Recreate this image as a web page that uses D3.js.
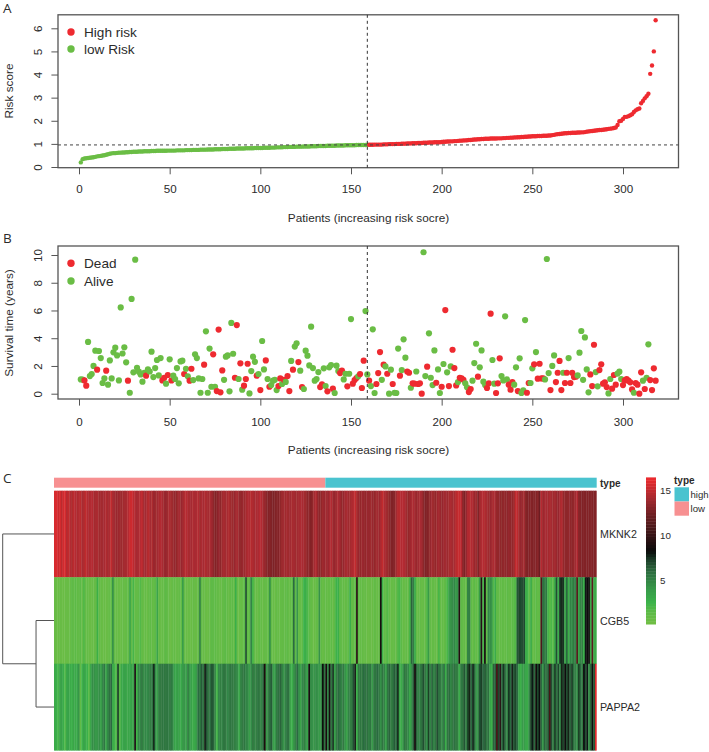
<!DOCTYPE html>
<html><head><meta charset="utf-8">
<script src="https://cdn.jsdelivr.net/npm/d3@7/dist/d3.min.js"></script>
<style>html,body{margin:0;padding:0;background:#fff}svg{display:block}text{font-family:"Liberation Sans",Arial,sans-serif;fill:#2b2b2b}</style>
</head><body><div id="chart"></div>
<script>
const riskScore=[
.2,.34,.37,.38,.39,.4,.41,.42,.44,.46,
.47,.48,.5,.51,.53,.55,.57,.59,.6,.6,
.61,.62,.62,.63,.63,.64,.64,.65,.65,.66,
.66,.66,.67,.67,.67,.68,.68,.68,.68,.69,
.69,.69,.7,.7,.7,.7,.7,.7,.71,.71,
.71,.71,.71,.72,.72,.72,.72,.72,.73,.73,
.73,.73,.74,.74,.74,.74,.75,.75,.75,.75,
.76,.76,.76,.76,.77,.77,.77,.77,.78,.78,
.78,.78,.79,.79,.79,.79,.8,.8,.8,.8,
.8,.81,.81,.81,.81,.81,.82,.82,.82,.82,
.82,.83,.83,.83,.83,.84,.84,.84,.85,.85,
.85,.85,.86,.86,.86,.87,.87,.87,.87,.88,
.88,.88,.88,.89,.89,.89,.89,.9,.9,.9,
.9,.91,.91,.91,.91,.91,.92,.92,.92,.92,
.92,.93,.93,.93,.93,.93,.94,.94,.94,.94,
.94,.94,.95,.95,.95,.95,.95,.95,.96,
.96,.96,.96,.97,.97,.97,.97,.97,.98,.98,.98,
.99,.99,.99,.99,1,1,1,1.01,1.01,1.01,
1.02,1.02,1.02,1.03,1.03,1.03,1.04,1.04,1.04,1.05,
1.05,1.05,1.06,1.06,1.06,1.07,1.07,1.07,1.07,1.08,
1.09,1.09,1.1,1.1,1.11,1.11,1.12,1.12,1.13,1.14,
1.14,1.15,1.15,1.16,1.17,1.17,1.18,1.19,1.19,1.2,
1.2,1.21,1.21,1.22,1.22,1.22,1.23,1.23,1.23,1.23,
1.24,1.24,1.24,1.25,1.25,1.26,1.26,1.27,1.27,1.28,
1.28,1.29,1.29,1.3,1.3,1.31,1.31,1.32,1.32,1.33,
1.33,1.33,1.34,1.34,1.34,1.35,1.35,1.35,1.36,1.36,
1.38,1.39,1.41,1.42,1.43,1.44,1.45,1.46,1.46,1.47,
1.47,1.48,1.48,1.48,1.49,1.49,1.5,1.5,1.51,1.53,
1.54,1.55,1.56,1.57,1.58,1.59,1.6,1.6,1.61,1.62,
1.63,1.65,1.66,1.67,1.69,1.71,
1.82,1.98,2.0,2.08,2.17,2.17,2.2,2.24,2.28,2.38,2.45,2.5,2.53,2.76,2.86,2.97,3.06,3.17,4.03,4.39,5.0,6.35];
const riskCut=0.955;
const cutIndex=159;

const survival=[
1.03,1.02,.96,.58,3.73,1.27,1.42,2.0,3.1,1.73,
3.08,2.57,.77,1.1,1.66,.65,2.4,1.1,2.98,3.32,
2.76,.96,6.22,2.9,3.34,2.26,.94,.07,6.83,1.54,
9.66,1.87,1.59,1.39,.87,1.5,1.3,1.75,1.6,3.03,
1.2,1.85,2.43,1.32,2.57,.96,1.15,.72,1.35,2.48,
.96,1.3,1.06,1.85,.75,2.33,2.38,1.42,1.8,1.25,
.94,1.8,.98,2.84,2.57,1.1,.07,1.06,2.09,4.5,
.07,3.25,.5,2.84,.5,.19,4.62,.1,1.68,1.0,
2.67,2.76,.17,5.1,2.88,1.15,4.95,1.06,2.19,.29,
.58,1.06,2.16,.02,1.63,2.67,2.3,1.3,1.42,.26,
3.8,1.75,2.4,1.06,.5,.62,.94,1.0,.26,.55,
1.1,.7,1.0,.85,1.27,.19,2.36,1.73,3.4,3.63,
2.28,1.66,.48,.34,3.1,2.74,2.04,4.83,1.85,.94,
1.06,1.56,.48,.67,1.83,.55,.17,1.9,2.07,.36,
.05,2.02,1.63,1.49,1.66,1.03,1.44,.53,1.44,5.38,
.72,.98,1.13,1.25,1.42,.41,2.38,5.96,1.39,.94,
.55,4.64,.05,.7,1.49,3.0,1.0,2.09,1.97,1.44,
0,1.73,.7,.07,.05,3.25,1.3,1.7,3.92,2.6,
1.6,1.51,.43,.75,.72,1.6,.7,.75,0,10.2,
1.27,1.95,4.35,1.15,.62,3.12,.79,1.75,.05,.5,
2.14,6.03,1.54,.55,1.97,3.17,1.85,.6,.84,1.15,
1.1,1.0,.75,.46,.12,.34,.94,2.21,3.6,1.23,
1.9,3.12,.87,.62,.41,.75,5.77,2.43,.72,.05,
.75,2.55,1.27,.96,5.58,1.03,.65,.29,.84,.65,
1.9,.19,2.55,.05,.24,5.31,.07,.77,.77,1.83,
2.12,3.0,1.08,2.16,1.1,1.1,1.03,9.71,1.49,.26,
2.0,2.76,.84,1.51,2.36,.26,1.51,.77,1.51,2.57,
.77,1.51,1.2,1.23,1.32,2.96,4.52,1.0,4.06,1.75,
.1,1.39,.55,3.53,1.56,.53,1.7,2.12,.72,.82,
.48,.02,1.06,.36,1.35,.65,1.45,1.59,1.06,.62,
.96,1.06,.94,.82,.31,.07,.77,.65,0,1.54,
.94,.34,1.15,3.56,.98,.26,1.83,.94];
const isDead=[
0,0,1,1,0,0,0,0,0,1,
0,0,0,0,1,0,0,0,0,0,
0,0,0,0,0,0,1,0,0,0,
0,0,0,0,0,0,1,0,0,0,
0,0,0,0,0,1,1,0,1,0,
1,0,0,0,0,0,0,1,0,0,
1,1,0,0,0,0,0,0,1,0,
0,0,0,1,0,1,1,1,1,0,
0,0,0,0,0,1,1,0,1,0,
1,1,1,0,0,0,0,1,0,1,
0,0,1,0,1,0,0,0,0,1,
1,0,1,0,1,1,0,1,0,0,
1,0,1,0,0,0,0,0,0,0,
0,0,1,1,0,0,1,0,0,1,
0,0,0,1,1,0,0,1,0,0,
1,1,1,0,1,1,1,0,0,1,
0,0,0,1,1,1,0,1,0,1,
0,0,1,0,0,0,1,0,0,0,
1,1,0,1,1,0,1,1,1,0,
0,1,0,0,0,0,1,0,0,1,
0,1,0,1,0,1,1,1,0,1,
1,1,0,0,1,1,0,0,0,1,
0,0,0,0,1,1,1,0,0,1,
1,1,0,0,0,0,1,1,1,0,
0,1,0,0,0,0,1,1,0,0,
1,0,1,1,1,1,0,0,0,1,
0,0,1,1,1,1,0,1,1,0,
1,1,1,1,0,0,0,0,0,0,
0,1,1,1,0,0,1,1,1,1,
1,0,0,1,1,1,0,0,0,1,
1,1,1,1,1,0,1,1,1,1,
0,1,0,0,1,1,1,1];

const geneNames=["MKNK2","CGB5","PAPPA2"];
const MKNK2=[
15.6,15.8,15.2,15.7,14.8,15.5,15.6,14.6,15,14.5,
14.3,14.8,14.6,14.3,14.5,14.8,14.2,14.4,14.9,14.5,
14.3,14.5,14.6,14.1,14.2,14.3,13.9,14.1,14.0,14.2,
14.4,14.1,14.3,14.9,14.2,14.0,13.7,13.8,13.9,13.8,
14.0,14.1,14.2,14.6,15.2,15.4,14.8,14.5,14.1,14.3,
14.6,14.9,14.2,14.0,14.4,14.7,14.1,14.3,13.7,13.9,
14,14.2,14.5,14.2,13.8,13.6,13.9,14.3,14.1,13.8,
13.6,13.5,13.9,14.1,13.7,14.0,14.5,14.6,14.3,14.2,
14.1,14.4,14.2,14.3,14.5,14,14.3,14.1,14.4,14.2,
14.1,14.2,13.9,13.3,13.0,13.2,13.6,13.3,13.9,14.2,
14,14.2,14.4,13.9,13.8,13.6,14,14.2,13.6,13.5,
13.7,13.8,14.1,14.4,14.3,14.6,14.4,14.1,14.3,14.2,
14.6,14.5,14.0,13.7,13.2,13.0,13.1,12.9,12.8,12.9,
13.1,13.0,13.4,13.8,14,13.9,14.1,13.9,14.0,14.2,
14.1,13.9,14,14.1,14.3,14.2,14.0,13.9,13.3,13.4,
13.0,13.4,14.1,14.4,13.6,13.3,13.5,13.9,13.7,
14,13.7,14.2,14.5,13.8,13.6,14,14.3,14,13.5,
13.6,14,14.2,13.9,14.1,14.3,14.6,15,14.2,13.7,
13.5,13.8,13.6,13.5,13.7,13.6,13.9,13.7,13.5,13.8,
14,13.8,14.3,15,14.4,14.1,13.8,13.4,13,12.9,
13.1,14,14.6,14.7,14.5,14.6,14.4,13.9,13.6,13.8,
14.2,14.3,14,13.7,14,14.2,14,13.2,12.9,13,
13.2,13.6,14,13.8,13.5,13.9,14.1,13.7,13.6,13.9,
14,13.8,14.1,14.3,14,14.2,14.6,15,15.1,14.8,
13.4,12.8,13.6,14.4,14.6,14.5,14.3,13.7,13.9,12.9,
14,14.4,14.6,14.4,14.2,13.9,13.7,14,14.3,14.1,
13.6,13.5,13.4,13.3,13.5,13.4,13.3,13.6,13.4,13.5,
13.8,15,14.8,14.1,13.6,13.8,14,13.1,12.9,13,
13.1,12.9,13.1,13,13.2,12.2,14.6,13.8,14.1,14.2,
14,14.3,14.1,13.9,14.1,13.7,13.6,14.2,14.5,13.5,
13.4,13.3,13.5,13.4,13.3,13.5,14,14.4,13.2,13,
12.9,13,12.9,13,12.9,13.1,13,12.9,13];
const CGB5=[
.8,.7,.6,.8,.7,.6,.7,.8,.7,.9,
1.4,1.1,1.5,1.2,1,1.5,.9,1.8,1,.9,
.8,.7,.8,.8,1,2.8,1,.8,.7,.8,
.7,.8,.9,1.3,4.4,1,.8,.8,.7,.8,
.9,.8,1,1.1,3.4,1,2.2,.9,1,1.2,
1.8,1.1,.8,.9,.7,1,1.2,1,.9,1.5,
3.4,1,.8,.9,1,1.5,1,.8,.7,.9,
1,.8,.9,1,1.2,3.8,.9,.8,.7,.8,
.7,.9,.8,.7,1,5,1,.8,.8,.7,
.8,1,1.4,1.2,1.3,1,.9,.8,1,1.1,
1.5,1,.8,1.2,1.4,1,2.8,.8,.7,.9,
.8,1.5,6.8,1.1,1.4,5,2.2,1,.8,.8,
1.2,.9,.8,1,.9,1.2,4.4,.9,.8,.7,
1,.8,.9,1,1.1,1,1.4,.9,1,1.3,
6,1.3,4.2,1,.9,1.5,2.6,2.8,2,1.5,
1,.8,.7,1,1,4.4,1.1,.8,1,
1,.9,1,1.3,1,1.5,2.6,2.8,1.5,1,
1,.9,1,1.3,3,1,1,1.4,9.5,1.2,
.9,1,.8,.9,.7,.6,.8,.7,1.1,1,
.8,1,8.8,2.6,1,1.4,1.8,1,.8,.9,
1,1,1.8,2.2,1.5,.9,.8,1,1,2.2,
6.2,5.2,3,1,.9,1,.8,.9,1,1.8,
4,1,.9,1,.8,1,2.2,.9,1,1,
1.5,2.2,3.8,4.2,4.6,4.8,4,4.4,9.2,1.4,
1.1,1,1,5,5.2,1.4,1,1.5,.9,1.6,
4,9.4,2.2,8.8,1.3,4.8,4.6,4.2,1.8,3,
1.3,1,1,1.2,1.1,1,1.4,1,1.1,1.5,
1.6,1.8,6.6,7,6.9,6.8,6.9,3,2.4,1.4,
3,1.1,1,1.5,1,1.3,11,6,5.2,5.5,
2.2,1.6,2,1.6,3.2,6.8,2.8,7.4,7.6,7.4,
3.2,6,2.8,5,4.6,5.4,4.8,11.2,3.4,5,
5.2,2.8,8,8.3,8.1,3.2,11.4,2.8,3];
const PAPPA2=[
3,2.8,2.2,3.4,3.6,2.8,1.8,3.2,3.6,3,
2.6,3.4,3,3.2,4.2,1.2,2.6,3.4,3,2.6,
1.6,3.2,4.6,4.4,4,4.2,4.5,3.6,4.8,5.5,
3.4,4.8,5.8,6,3,2.4,1.8,7.2,1.6,3.2,
3.4,3.6,3.2,3.4,3.2,3.6,3.4,9,2.4,4.8,
5,5.4,4.6,4.8,4.6,5,5.2,5.6,7.6,4.4,
3.8,5.2,5.4,5.6,5.5,5.4,5.6,5.3,5.5,5,
3.6,3.4,3.8,3.4,3.2,4,4.2,3.6,5.2,4,
3.6,3,3.2,4,6,5.4,6.4,5.6,7.8,6.6,
5.4,6,6.6,6.2,4.6,2.2,4.8,5.2,5,5.6,
5.4,4.8,5.2,5.6,5.4,5.2,5,4.6,3.2,5,
5.4,5.6,5,4.8,3.8,4.6,5.4,5,5.2,5.6,
5.4,5,6.2,9,4,5.2,6,6.4,3.6,4,
5.4,5.8,6.2,5.4,4.2,5,5.6,5.8,3.4,2.8,
4.2,5,6,4.6,3.4,4.8,5.2,4.4,3.6,8.6,
4.6,4.4,4.2,4.6,4.4,4,4.6,8.4,5.6,
8.6,5,8.8,5.6,7.4,3.6,5.4,6,5.6,5,
5.4,4.4,3.4,5,5.2,5.4,6.8,7.8,2.6,5.4,
5.6,5.4,6,5.6,5.8,5.2,5.6,4,5.4,5.6,
6,5.4,4.4,5.6,5,3.6,5.6,6.2,5.2,5.6,
6.4,6,7.6,3.4,3,4.2,5.6,5.2,4.8,3.2,
4.4,6.4,8.6,6.2,5,5.4,5.8,6.8,5.4,4.6,
7.2,5,6.2,5,5.6,6.8,5.8,5.4,4.6,5.8,
2.8,5.6,6,4.8,5.4,5.8,5.4,5.2,3,5.4,
5.6,6.6,5.2,7,7.8,6,7.6,6.2,3.8,5,
6.8,7.2,6,6.4,5.4,5.8,3.6,2.6,6.2,6.4,
10.8,7,9.6,6,7.4,5.5,5,7.4,6,7.8,
6.6,7,6,3.4,2.6,4,3.8,3.2,3,5,
7.2,8,6,8.4,7,8.2,6,4.2,6.2,5.4,
6.6,10.6,6.8,5.2,7.2,5.6,7,4.8,7.8,7,
8.2,6.8,7.8,6.2,7.2,5.8,5,4.6,7.2,6,
5.4,8.2,6.8,8,4.4,6.2,8.4,6.6,16];
const xTicks=[0,50,100,150,200,250,300];
const riskTicks=[0,1,2,3,4,5,6];
const survTicks=[0,2,4,6,8,10];
const barTicks=[5,10,15];
const mergeHeights=[0.35,1];
const RED="#ee2a30",GREEN="#6abd45",INK="#2b2b2b",FRAME="#555";

const W=709,H=752;
const svg=d3.select("#chart").append("svg").attr("width",W).attr("height",H).attr("viewBox",`0 0 ${W} ${H}`);
const defs=svg.append("defs");
defs.append("filter").attr("id","soft").attr("x","-1%").attr("y","-1%").attr("width","102%").attr("height","102%")
  .append("feGaussianBlur").attr("stdDeviation","0.7 0");
const X=d3.scaleLinear().domain([0,300]).range([79,623]);
const FL=58,FR=678.5;

function axes(top,bottom,y,yTicks,yTitle,yTitleY,lblY){
  const g=svg.append("g");
  g.append("g").attr("transform",`translate(0,${bottom})`).call(d3.axisBottom(X).tickValues(xTicks).tickSize(6.6).tickFormat(d=>d))
    .call(a=>{a.select(".domain").remove();a.selectAll("line").attr("stroke",FRAME).attr("stroke-width",1);
      a.selectAll("text").attr("dy",null).attr("text-anchor","middle")
        .attr("y",lblY-bottom).attr("dominant-baseline","central").style("font-size","11.6px").style("fill",INK);});
  g.append("g").attr("transform",`translate(${FL},0)`).call(d3.axisLeft(y).tickValues(yTicks).tickSize(6.6).tickFormat(d=>d))
    .call(a=>{a.select(".domain").remove();a.selectAll("line").attr("stroke",FRAME).attr("stroke-width",1);
      a.selectAll("text").attr("x",null).attr("dy",null).attr("text-anchor","middle").attr("dominant-baseline","central")
        .attr("transform","translate(-21,0) rotate(-90)")
        .style("font-size","11.6px").style("fill",INK);});
  g.append("rect").attr("x",FL).attr("y",top).attr("width",FR-FL).attr("height",bottom-top).attr("fill","none").attr("stroke",FRAME).attr("stroke-width",1.3);
  g.append("text").attr("transform",`translate(9,${yTitleY}) rotate(-90)`).attr("text-anchor","middle").attr("dominant-baseline","central").style("font-size","11.8px").text(yTitle);
  g.append("text").attr("x",368.5).attr("y",lblY+29).attr("text-anchor","middle").attr("dominant-baseline","central").style("font-size","11.8px").text("Patients (increasing risk socre)");
}
function legend(ys,labels,colors){
  ys.forEach((yy,i)=>{
    svg.append("circle").attr("cx",71).attr("cy",yy).attr("r",3.7).attr("fill",colors[i]);
    svg.append("text").attr("x",84).attr("y",yy).attr("dominant-baseline","central").style("font-size","13.6px").text(labels[i]);
  });
}
function letter(t,y){svg.append("text").attr("x",3).attr("y",y).attr("dominant-baseline","central").style("font-family","'Open Sans'").style("font-size","13.5px").text(t);}

/* Panel A */
const yA=d3.scaleLinear().domain([0,6]).range([167,28.3]);
axes(14.8,167.7,yA,riskTicks,"Risk score",91,189);
svg.append("g").selectAll("circle").data(riskScore).join("circle")
  .attr("cx",(d,i)=>X(i+1)).attr("cy",d=>yA(d)).attr("r",2.2).attr("fill",(d,i)=>i<cutIndex?GREEN:RED);
svg.append("line").attr("x1",FL).attr("x2",FR).attr("y1",yA(riskCut)).attr("y2",yA(riskCut)).attr("stroke","#444").attr("stroke-dasharray","3 3");
svg.append("line").attr("x1",X(cutIndex)).attr("x2",X(cutIndex)).attr("y1",14.8).attr("y2",167.7).attr("stroke","#333").attr("stroke-dasharray","3 3");
legend([32,49],["High risk","low Risk"],[RED,GREEN]);
letter("A",8);

/* Panel B */
const yB=d3.scaleLinear().domain([0,10]).range([393.7,255]);
axes(246,399,yB,survTicks,"Survival time (years)",323,421);
svg.append("g").selectAll("circle").data(survival).join("circle")
  .attr("cx",(d,i)=>X(i+1)).attr("cy",d=>yB(d)).attr("r",3.1).attr("fill",(d,i)=>isDead[i]?RED:GREEN);
svg.append("line").attr("x1",X(cutIndex)).attr("x2",X(cutIndex)).attr("y1",246).attr("y2",399).attr("stroke","#333").attr("stroke-dasharray","3 3");
legend([263.3,281],["Dead","Alive"],[RED,GREEN]);
letter("B",238);

/* Panel C */
const HL=54,HR=596.7;
const color=d3.scaleLinear().domain([0.1,1.5,2.5,4,6,7.2,8.25,12.3,14,16.4])
  .range(["#72be44","#5cba47","#3cb34a","#389a4a","#2c6b3f","#1b3f28","#0b0b0b","#6e2023","#a22a30","#ee2a2e"]).interpolate(d3.interpolateRgb);
const colX=d3.scaleLinear().domain([0,riskScore.length]).range([HL,HR]);
const rowY=d3.scaleBand().domain(geneNames).range([490.7,750.3]);
const heatG=svg.append("g").attr("filter","url(#soft)");
[MKNK2,CGB5,PAPPA2].forEach((vals,r)=>{
  heatG.append("g").selectAll("rect").data(vals).join("rect")
    .attr("x",(d,i)=>colX(i)).attr("y",rowY(geneNames[r])).attr("width",(d,i)=>colX(1)-colX(0)+(i<vals.length-1?.35:0)).attr("height",rowY.bandwidth()+.3)
    .attr("fill",d=>color(d));
});
const annY=477.7,annH=10;
svg.append("rect").attr("x",colX(0)).attr("y",annY).attr("width",colX(cutIndex)-colX(0)).attr("height",annH).attr("fill","#f79091");
svg.append("rect").attr("x",colX(cutIndex)).attr("y",annY).attr("width",colX(riskScore.length)-colX(cutIndex)).attr("height",annH).attr("fill","#4ac3cf");
svg.append("text").attr("x",600).attr("y",483).attr("dominant-baseline","central").style("font-size","10px").style("font-weight","bold").text("type");
geneNames.forEach(g=>svg.append("text").attr("x",600).attr("y",rowY(g)+rowY.bandwidth()/2).attr("dominant-baseline","central").style("font-size","10.7px").text(g));

/* dendrogram */
const dX=d3.scaleLinear().domain([0,1]).range([HL,2.7]);
const leaf=g=>rowY(g)+rowY.bandwidth()/2;
const m1=(leaf("CGB5")+leaf("PAPPA2"))/2;
const dend=d3.path();
dend.moveTo(dX(0),leaf("CGB5"));dend.lineTo(dX(mergeHeights[0]),leaf("CGB5"));dend.lineTo(dX(mergeHeights[0]),leaf("PAPPA2"));dend.lineTo(dX(0),leaf("PAPPA2"));
dend.moveTo(dX(mergeHeights[0]),m1);dend.lineTo(dX(mergeHeights[1]),m1);dend.lineTo(dX(mergeHeights[1]),leaf("MKNK2"));dend.lineTo(dX(0),leaf("MKNK2"));
svg.append("path").attr("d",dend.toString()).attr("fill","none").attr("stroke","#555").attr("stroke-width",1);

/* colour bar */
const barV=d3.scaleLinear().domain([5,15]).range([580,490]);
const steps=d3.range(50);
const barMin=0.1,barMax=16.4,bstep=(barMax-barMin)/50;
svg.append("g").selectAll("rect").data(steps).join("rect")
  .attr("x",646).attr("width",10).attr("y",s=>barV(barMin+(s+1)*bstep)).attr("height",barV(barMin)-barV(barMin+bstep)+.4)
  .attr("fill",s=>color(barMin+(s+.5)*bstep));
svg.append("g").selectAll("text").data(barTicks).join("text").attr("x",660).attr("y",d=>barV(d)).attr("dominant-baseline","central").style("font-size","9.8px").text(d=>d);

/* annotation legend */
const annNames=["high","low"],annColors=["#4ac3cf","#f79091"];
svg.append("text").attr("x",674).attr("y",480.5).attr("dominant-baseline","central").style("font-size","10px").style("font-weight","bold").text("type");
annNames.forEach((n,i)=>{
  svg.append("rect").attr("x",674.5).attr("y",487.3+i*14.2).attr("width",14.5).attr("height",14.2).attr("fill",annColors[i]);
  svg.append("text").attr("x",690.5).attr("y",494.6+i*14.2).attr("dominant-baseline","central").style("font-size","9.6px").text(n);
});
letter("C",478);
</script></body></html>
